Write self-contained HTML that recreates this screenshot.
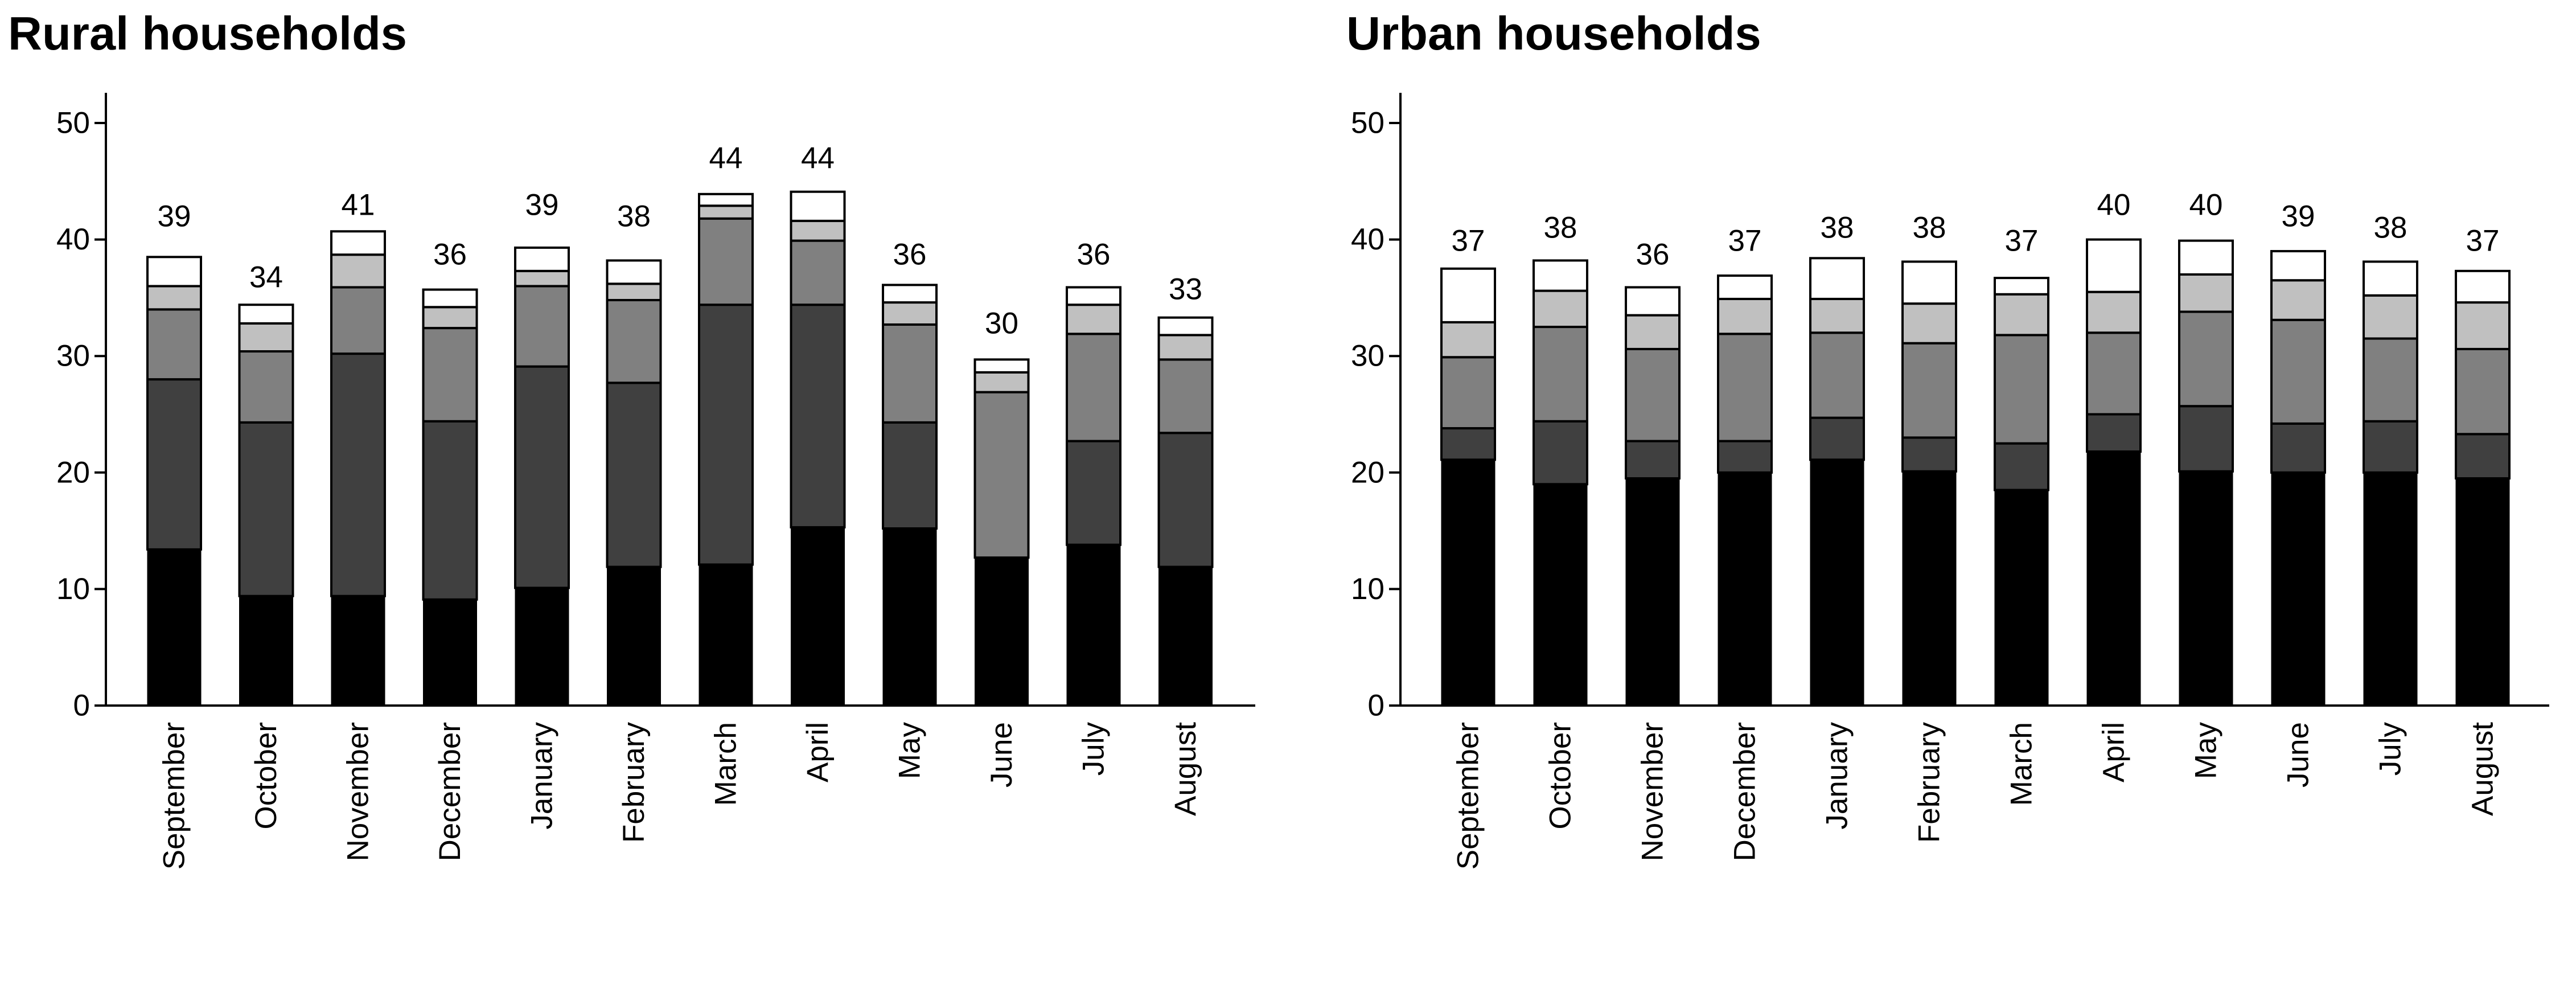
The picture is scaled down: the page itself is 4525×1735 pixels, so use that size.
<!DOCTYPE html>
<html><head><meta charset="utf-8"><style>
html,body{margin:0;padding:0;background:#fff;}
svg{display:block;font-family:"Liberation Sans",Arial,sans-serif;}
</style></head><body>
<svg id="s" width="4525" height="1735" viewBox="0 0 4525 1735" xmlns="http://www.w3.org/2000/svg">
<rect width="4525" height="1735" fill="#fff"/>
<text x="14" y="87" font-size="83" font-weight="bold">Rural households</text>
<text x="2365" y="87" font-size="83" font-weight="bold">Urban households</text>
<g id="bars"></g>
<g stroke="#000" stroke-width="4" fill="none">
<path d="M186,163 V1239 H2205"/>
<path d="M2460,163 V1239 H4478"/>
<path d="M166,1239h20M166,1034.4h20M166,829.8h20M166,625.2h20M166,420.6h20M166,216h20"/>
<path d="M2440,1239h20M2440,1034.4h20M2440,829.8h20M2440,625.2h20M2440,420.6h20M2440,216h20"/>
</g>
<g font-size="53" text-anchor="end" dominant-baseline="central">
<text x="158" y="1239">0</text><text x="158" y="1034.4">10</text><text x="158" y="829.8">20</text><text x="158" y="625.2">30</text><text x="158" y="420.6">40</text><text x="158" y="216">50</text>
<text x="2432" y="1239">0</text><text x="2432" y="1034.4">10</text><text x="2432" y="829.8">20</text><text x="2432" y="625.2">30</text><text x="2432" y="420.6">40</text><text x="2432" y="216">50</text>
</g>
<g font-size="53" text-anchor="middle" dominant-baseline="central">
<text x="306" y="380">39</text><text x="467.5" y="487">34</text><text x="629" y="360">41</text><text x="790.5" y="447">36</text><text x="952" y="360">39</text><text x="1113.5" y="380">38</text><text x="1275" y="278">44</text><text x="1436.5" y="278">44</text><text x="1598" y="447">36</text><text x="1759.5" y="568">30</text><text x="1921" y="447">36</text><text x="2082.5" y="508">33</text>
<text x="2579" y="423">37</text><text x="2741" y="400">38</text><text x="2903" y="447">36</text><text x="3065" y="423">37</text><text x="3227" y="400">38</text><text x="3389" y="400">38</text><text x="3551" y="423">37</text><text x="3713" y="360">40</text><text x="3875" y="360">40</text><text x="4037" y="380">39</text><text x="4199" y="400">38</text><text x="4361" y="423">37</text>
</g>
<g font-size="53" text-anchor="end" dominant-baseline="central">
<text transform="translate(306,1268) rotate(-90)">September</text>
<text transform="translate(467.5,1268) rotate(-90)">October</text>
<text transform="translate(629,1268) rotate(-90)">November</text>
<text transform="translate(790.5,1268) rotate(-90)">December</text>
<text transform="translate(952,1268) rotate(-90)">January</text>
<text transform="translate(1113.5,1268) rotate(-90)">February</text>
<text transform="translate(1275,1268) rotate(-90)">March</text>
<text transform="translate(1436.5,1268) rotate(-90)">April</text>
<text transform="translate(1598,1268) rotate(-90)">May</text>
<text transform="translate(1759.5,1268) rotate(-90)">June</text>
<text transform="translate(1921,1268) rotate(-90)">July</text>
<text transform="translate(2082.5,1268) rotate(-90)">August</text>
<text transform="translate(2579,1268) rotate(-90)">September</text>
<text transform="translate(2741,1268) rotate(-90)">October</text>
<text transform="translate(2903,1268) rotate(-90)">November</text>
<text transform="translate(3065,1268) rotate(-90)">December</text>
<text transform="translate(3227,1268) rotate(-90)">January</text>
<text transform="translate(3389,1268) rotate(-90)">February</text>
<text transform="translate(3551,1268) rotate(-90)">March</text>
<text transform="translate(3713,1268) rotate(-90)">April</text>
<text transform="translate(3875,1268) rotate(-90)">May</text>
<text transform="translate(4037,1268) rotate(-90)">June</text>
<text transform="translate(4199,1268) rotate(-90)">July</text>
<text transform="translate(4361,1268) rotate(-90)">August</text>
</g>
</svg>
<script>
var rural=[[13.4,28,34,36,38.5],[9.4,24.3,30.4,32.8,34.4],[9.4,30.2,35.9,38.7,40.7],[9.1,24.4,32.4,34.2,35.7],[10.1,29.1,36,37.3,39.3],[11.9,27.7,34.8,36.2,38.2],[12.1,34.4,41.8,42.9,43.9],[15.3,34.4,39.9,41.6,44.1],[15.2,24.3,32.7,34.6,36.1],[12.7,12.7,26.9,28.6,29.7],[13.8,22.7,31.9,34.4,35.9],[11.9,23.4,29.7,31.8,33.3]];
var urban=[[21.1,23.8,29.9,32.9,37.5],[19,24.4,32.5,35.6,38.2],[19.5,22.7,30.6,33.5,35.9],[20,22.7,31.9,34.9,36.9],[21.1,24.7,32,34.9,38.4],[20.1,23,31.1,34.5,38.1],[18.5,22.5,31.8,35.3,36.7],[21.8,25,32,35.5,40],[20.1,25.7,33.8,37,39.9],[20,24.2,33.1,36.5,39],[20,24.4,31.5,35.2,38.1],[19.5,23.3,30.6,34.6,37.3]];
var cols=["#000","#404040","#808080","#c0c0c0","#fff"];
var g=document.getElementById("bars"),ns="http://www.w3.org/2000/svg";
function y(v){return 1239-v*20.46;}
function draw(data,x0,dx){
 data.forEach(function(d,i){
  var cx=x0+i*dx,prev=0;
  for(var k=0;k<5;k++){
   if(d[k]-prev<0.01){prev=d[k];continue;}
   var r=document.createElementNS(ns,"rect");
   r.setAttribute("x",cx-47);r.setAttribute("width",94);
   r.setAttribute("y",y(d[k]));r.setAttribute("height",y(prev)-y(d[k]));
   r.setAttribute("fill",cols[k]);
   r.setAttribute("stroke","#000");r.setAttribute("stroke-width",k==0?1:4);
   g.appendChild(r);prev=d[k];
  }
 });
}
draw(rural,306,161.5);draw(urban,2579,162);
</script>
</body></html>
